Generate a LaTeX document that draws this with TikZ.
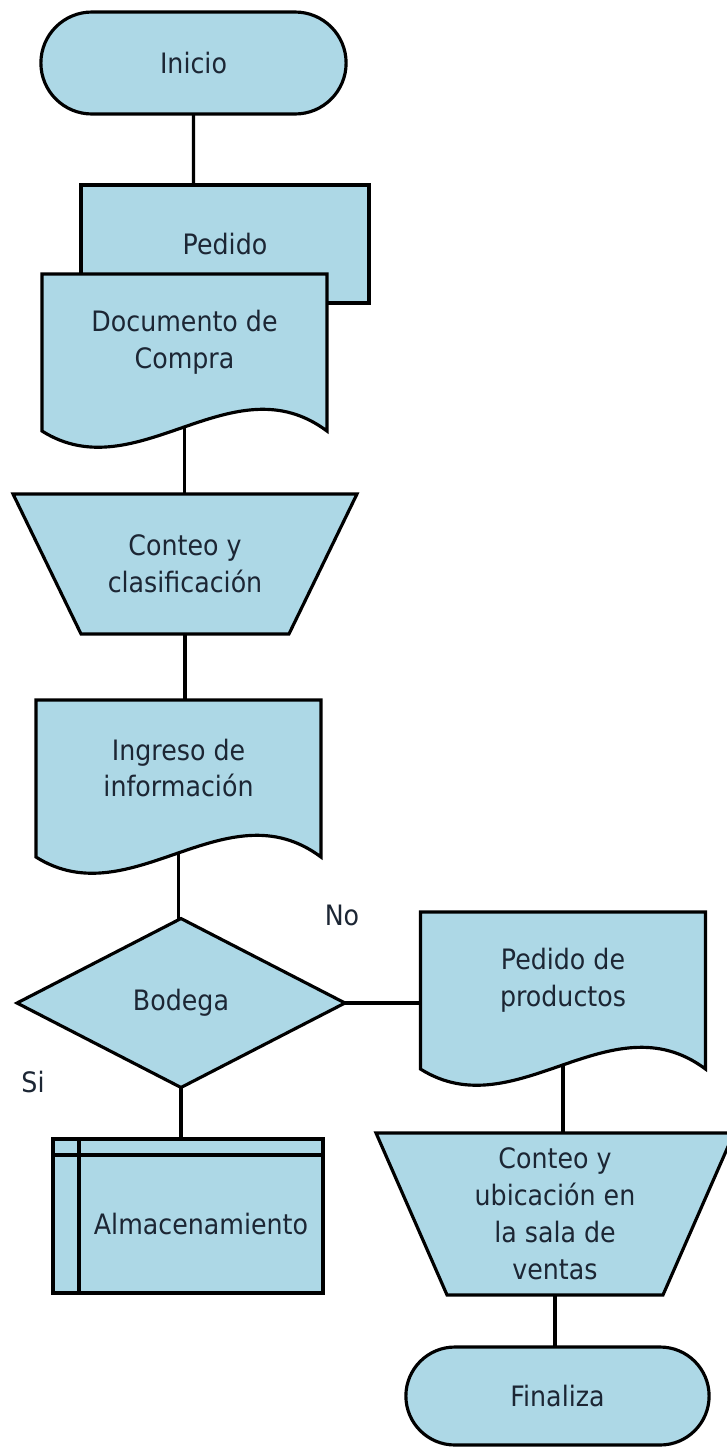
\documentclass[tikz,border=0pt]{standalone}
\usepackage{fontspec}
\setmainfont{DejaVu Sans}[FakeStretch=0.9]
\usetikzlibrary{shapes.geometric,shapes.misc,backgrounds,calc}
\definecolor{boxblue}{RGB}{173,216,230}
\definecolor{textnavy}{RGB}{28,38,52}
\tikzset{
  shapeline/.style={draw=black, line width=1.8pt, fill=boxblue},
  conn/.style={draw=black, line width=1.8pt},
  txt/.style={text=textnavy, align=center, outer sep=0pt, font=\fontsize{16}{21}\selectfont},
  terminal/.style={rounded rectangle, shapeline, txt, minimum width=6.34cm, minimum height=2.04cm},
  docbox/.style={txt, minimum width=5.7cm, minimum height=2.72cm},
  trapbox/.style={txt},
  decision/.style={diamond, shapeline, txt, inner sep=0pt, minimum width=6.56cm, minimum height=3.38cm},
  storage/.style={rectangle, shapeline, txt, minimum width=4.88cm, minimum height=2.76cm}
}
% document outline below a text box
\newcommand{\docshape}[1]{%
  \filldraw[shapeline] (#1.north west) -- (#1.north east) -- ++(0,157)
    .. controls +(-95,-71) and +(95,60) .. ++(-285,0) -- cycle;}
% trapezium, wide side on top
\newcommand{\trapshape}[2]{%
  \filldraw[shapeline] (#1.north west) -- (#1.north east)
    -- ($(#1.south east)+(-#2,0)$) -- ($(#1.south west)+(#2,0)$) -- cycle;}
\begin{document}
\begin{tikzpicture}[x=0.02cm, y=-0.02cm, line width=1.8pt]
  \useasboundingbox (0,0) rectangle (727,1448);

  \node[terminal] (ini) at (193.5,63) {Inicio};
  \node[txt, minimum width=5.76cm, minimum height=2.36cm] (ped) at (225,244) {Pedido};
  \node[docbox] (doc) at (184.5,342) {Documento de\\Compra};
  \node[trapbox, minimum width=6.88cm, minimum height=2.8cm] (cont1) at (185,564) {Conteo y\\clasificación};
  \node[docbox] (ing) at (178.5,768) {Ingreso de\\información};
  \node[decision] (bod) at (181,1003) {Bodega};
  \node[docbox] (pprod) at (563,980) {Pedido de\\productos};
  \node[storage] (alm) at (201,1224) {Almacenamiento};
  \node[trapbox, minimum width=7.16cm, minimum height=3.24cm] (cont2) at (555,1214) {Conteo y\\ubicación en\\la sala de\\ventas};
  \node[terminal, minimum width=6.3cm, minimum height=1.96cm] (fin) at (557.5,1396) {Finaliza};
  \node[txt] (no) at (342,915) {No};
  \node[txt] (si) at (33,1082) {Si};
  % storage marks
  \draw[conn] (alm.north west) -- ++(0,-16);
  \draw[conn] (alm.north west) -- ++(-26,0);

  \begin{scope}[on background layer]
    % connectors
    \draw[conn] (ini) -- (ini |- ped);
    \draw[conn] (doc) -- (doc |- cont1);
    \draw[conn] (cont1) -- (cont1 |- ing);
    \draw[conn] (ing) -- (ing |- bod);
    \draw[conn] (bod) -- (bod |- alm);
    \draw[conn] (bod) -- (bod -| pprod);
    \draw[conn] (pprod) -- (pprod |- cont2);
    \draw[conn] (cont2) -- (cont2 |- fin);
    % shapes
    \filldraw[shapeline] (ped.north west) rectangle (ped.south east);
    \docshape{doc}
    \trapshape{cont1}{68}
    \docshape{ing}
    \docshape{pprod}
    \trapshape{cont2}{71}
    \filldraw[shapeline] ($(alm.north west)+(-26,-16)$) rectangle (alm.south east);
  \end{scope}
\end{tikzpicture}
\end{document}
